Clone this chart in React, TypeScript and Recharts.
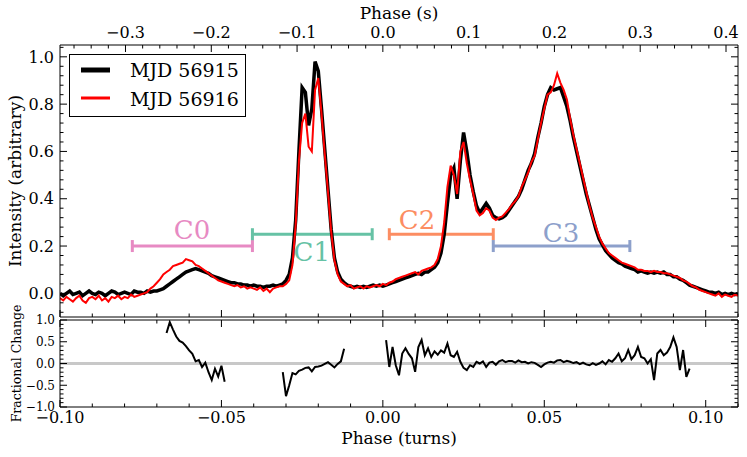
import React from 'react';
import { LineChart, Line, XAxis, YAxis, ReferenceLine, ReferenceDot, Legend } from 'recharts';

const FONT = "'DejaVu Serif', serif";
const PERIOD_S = 3.7635;
const PHASE_START = -0.1;
const PHASE_STEP = 0.001;

// Normalised pulse profile, MJD 56915 (phase -0.100 ... 0.110, step 0.001 turns)
const MJD56915 = [
  0.00, -0.01, 0.00, 0.01, -0.005, 0.00, 0.005, -0.01, 0.00, 0.01,
  0.00, -0.005, 0.005, 0.00, -0.01, 0.00, 0.01, 0.005, -0.005, 0.00,
  0.005, 0.00, -0.005, 0.01, 0.005, 0.005, 0.00, 0.01, 0.005, 0.01,
  0.01, 0.015, 0.02, 0.03, 0.04, 0.05, 0.06, 0.07, 0.08, 0.09,
  0.095, 0.10, 0.105, 0.10, 0.095, 0.09, 0.085, 0.075, 0.07, 0.065,
  0.06, 0.055, 0.05, 0.045, 0.045, 0.04, 0.04, 0.035, 0.035, 0.03,
  0.035, 0.03, 0.03, 0.025, 0.03, 0.03, 0.035, 0.03, 0.035, 0.04,
  0.055, 0.08, 0.15, 0.31, 0.60, 0.87, 0.85, 0.71, 0.78, 0.98,
  0.94, 0.78, 0.61, 0.44, 0.27, 0.15, 0.09, 0.06, 0.045, 0.035,
  0.03, 0.025, 0.03, 0.025, 0.03, 0.025, 0.03, 0.035, 0.03, 0.035,
  0.03, 0.035, 0.04, 0.045, 0.05, 0.055, 0.06, 0.065, 0.07, 0.075,
  0.08, 0.085, 0.08, 0.09, 0.09, 0.10, 0.11, 0.13, 0.17, 0.25,
  0.38, 0.50, 0.53, 0.40, 0.56, 0.68, 0.60, 0.50, 0.43, 0.37,
  0.34, 0.36, 0.38, 0.36, 0.33, 0.32, 0.315, 0.32, 0.33, 0.35,
  0.37, 0.39, 0.41, 0.44, 0.48, 0.52, 0.55, 0.59, 0.66, 0.72,
  0.79, 0.84, 0.87, 0.86, 0.865, 0.87, 0.83, 0.79, 0.73, 0.66,
  0.60, 0.54, 0.48, 0.42, 0.37, 0.32, 0.27, 0.23, 0.205, 0.18,
  0.165, 0.15, 0.14, 0.13, 0.125, 0.115, 0.11, 0.105, 0.10, 0.09,
  0.095, 0.09, 0.085, 0.09, 0.085, 0.09, 0.085, 0.09, 0.08, 0.08,
  0.07, 0.07, 0.06, 0.055, 0.045, 0.035, 0.03, 0.025, 0.02, 0.015,
  0.01, 0.005, 0.005, 0.0, 0.005, -0.005, 0.0, -0.005, 0.0, -0.005, 0.0,
];

// Normalised pulse profile, MJD 56916
const MJD56916 = [
  -0.02, -0.03, -0.015, -0.025, -0.035, -0.02, -0.01, -0.03, -0.04, -0.02,
  -0.015, -0.025, -0.01, -0.03, -0.02, -0.035, -0.015, -0.02, -0.01, -0.025,
  -0.015, -0.02, -0.005, -0.015, -0.01, -0.005, 0.00, 0.005, 0.02, 0.03,
  0.045, 0.06, 0.08, 0.09, 0.10, 0.115, 0.12, 0.125, 0.13, 0.145,
  0.14, 0.135, 0.12, 0.115, 0.105, 0.095, 0.085, 0.075, 0.065, 0.055,
  0.05, 0.045, 0.04, 0.035, 0.03, 0.035, 0.025, 0.03, 0.02, 0.025,
  0.02, 0.015, 0.025, 0.01, 0.02, 0.005, 0.02, 0.025, 0.03, 0.03,
  0.04, 0.055, 0.12, 0.29, 0.56, 0.72, 0.76, 0.62, 0.60, 0.86,
  0.91, 0.76, 0.59, 0.43, 0.26, 0.14, 0.08, 0.05, 0.04, 0.03,
  0.035, 0.02, 0.025, 0.03, 0.02, 0.03, 0.025, 0.03, 0.035, 0.03,
  0.04, 0.035, 0.045, 0.05, 0.06, 0.065, 0.07, 0.075, 0.08, 0.085,
  0.09, 0.08, 0.095, 0.10, 0.105, 0.11, 0.12, 0.145, 0.20, 0.30,
  0.45, 0.54, 0.50, 0.42, 0.60, 0.64, 0.55, 0.48, 0.42, 0.35,
  0.33, 0.34, 0.36, 0.35, 0.32, 0.31, 0.32, 0.325, 0.34, 0.355,
  0.375, 0.39, 0.41, 0.45, 0.48, 0.51, 0.555, 0.58, 0.65, 0.72,
  0.78, 0.84, 0.85, 0.88, 0.93, 0.89, 0.86, 0.82, 0.74, 0.67,
  0.61, 0.55, 0.49, 0.43, 0.37, 0.32, 0.28, 0.24, 0.21, 0.19,
  0.17, 0.16, 0.15, 0.14, 0.13, 0.125, 0.12, 0.115, 0.11, 0.10,
  0.10, 0.095, 0.095, 0.09, 0.095, 0.09, 0.09, 0.085, 0.085, 0.08,
  0.075, 0.07, 0.065, 0.055, 0.05, 0.04, 0.03, 0.025, 0.015, 0.01,
  0.005, 0.0, -0.005, -0.01, 0.0, -0.015, -0.005, -0.01, -0.015, -0.005, -0.01,
];

// Fractional change between the two days (null where not computed)
const FRAC_CHANGE = [
  null, null, null, null, null, null, null, null, null, null,
  null, null, null, null, null, null, null, null, null, null,
  null, null, null, null, null, null, null, null, null, null,
  null, null, null, 0.70, 0.95, 0.78, 0.62, 0.52, 0.48, 0.40,
  0.30, 0.22, 0.05, 0.08, -0.08, 0.02, -0.20, -0.38, -0.12, -0.30,
  -0.05, -0.42, null, null, null, null, null, null, null, null,
  null, null, null, null, null, null, null, null, null, -0.20,
  -0.75, -0.50, -0.22, -0.25, -0.17, -0.14, -0.10, -0.09, -0.18, -0.08,
  -0.07, -0.05, -0.01, 0.03, -0.03, -0.09, -0.01, 0.05, 0.34, null,
  null, null, null, null, null, null, null, null, null, null,
  null, 0.54, -0.08, 0.38, -0.04, -0.27, 0.23, 0.35, 0.22, 0.12,
  -0.19, 0.38, 0.54, 0.19, 0.35, 0.15, 0.28, 0.20, 0.30, 0.25,
  0.46, 0.19, 0.15, 0.27, 0.04, -0.10, -0.15, -0.04, -0.08, 0.04,
  0.0, 0.05, -0.08, 0.02, 0.04, -0.03, 0.05, 0.08, 0.03, 0.06,
  0.06, 0.02, 0.07, 0.03, 0.04, 0.0, 0.03, 0.015, -0.03, -0.08,
  -0.02, 0.02, 0.04, 0.02, 0.07, 0.08, 0.03, 0.06, 0.04, 0.01,
  0.03, -0.015, 0.02, -0.02, -0.04, 0.01, -0.03, 0.0, 0.05, -0.02,
  0.08, 0.04, 0.12, 0.23, 0.05, 0.12, 0.31, 0.10, 0.19, 0.38,
  0.15, 0.12, 0.0, 0.10, -0.38, 0.23, 0.31, 0.19, 0.25, 0.38,
  0.60, 0.38, -0.15, 0.31, -0.31, -0.12, null, null, null, null,
  null, null, null, null, null, null, null, null, null, null, null,
];

const PHASE = MJD56915.map((_, i) => Math.round((PHASE_START + i * PHASE_STEP) * 1000) / 1000);

// Profile components
const COMPONENT_NAMES = ['C0', 'C1', 'C2', 'C3'];
const COMPONENT_START = [-0.0776, -0.0404, 0.002, 0.0342];
const COMPONENT_END = [-0.0404, -0.0033, 0.0342, 0.0765];
const COMPONENT_LEVEL = [0.2, 0.25, 0.25, 0.2];
const COMPONENT_LABEL_PHASE = [-0.0591, -0.022, 0.0106, 0.0552];
const COMPONENT_LABEL_LEVEL = [0.268, 0.175, 0.31, 0.255];
const COMPONENT_COLORS = ['#e78ac3', '#66c2a5', '#fc8d62', '#8da0cb'];

// Tick labels
const TURN_MAJOR = [-0.1, -0.05, 0, 0.05, 0.1];
const SEC_MAJOR = [-0.3, -0.2, -0.1, 0.0, 0.1, 0.2, 0.3, 0.4];
const INT_MAJOR = [0, 0.2, 0.4, 0.6, 0.8, 1.0];
const FRAC_MAJOR = [-1, -0.5, 0, 0.5, 1];

const range = (a: number, b: number, step: number) => {
  const out: number[] = [];
  for (let v = a; v <= b + 1e-9; v += step) out.push(Math.round(v * 1e4) / 1e4);
  return out;
};

const TURN_TICKS = range(-0.1, 0.11, 0.01);
const SEC_TICKS = range(-0.36, 0.4, 0.02).map((s) => s / PERIOD_S);
const SEC_MAJOR_TURNS = SEC_MAJOR.map((s) => s / PERIOD_S);
const INT_TICKS = range(-0.08, 1.04, 0.04);
const FRAC_TICKS = range(-1, 1, 0.1);

const SERIES = [
  { key: 'mjd56915', name: 'MJD 56915', color: '#000000', width: 3.5, legendWidth: 5 },
  { key: 'mjd56916', name: 'MJD 56916', color: '#ff0000', width: 2, legendWidth: 3 },
];

const profileRows = PHASE.map((x, i) => ({ x, mjd56915: MJD56915[i], mjd56916: MJD56916[i] }));
const fracRows = PHASE.map((x, i) => ({ x, frac: FRAC_CHANGE[i] }));
const componentSegments = COMPONENT_NAMES.map((_, i) => [
  { x: COMPONENT_START[i], y: COMPONENT_LEVEL[i] },
  { x: COMPONENT_END[i], y: COMPONENT_LEVEL[i] },
]);

const fmtNum = (d: number) => (v: number) => {
  const r = Math.abs(v) < 1e-9 ? 0 : v;
  return r.toFixed(d).replace('-', '\u2212');
};

type Side = 'top' | 'bottom' | 'left' | 'right';
type LabelOpt = { size: number; fmt: (v: number) => string; gap: number } | null;

function makeTick(side: Side, majors: number[], label: LabelOpt) {
  return (props: any) => {
    const { x, y, payload } = props;
    const v = payload.value;
    const isMajor = majors.some((m) => Math.abs(m - v) < 1e-6);
    const len = isMajor ? 7 : 3.5;
    let l;
    if (side === 'bottom') l = { x1: x, x2: x, y1: y, y2: y - len };
    else if (side === 'top') l = { x1: x, x2: x, y1: y, y2: y + len };
    else if (side === 'left') l = { x1: x, x2: x + len, y1: y, y2: y };
    else l = { x1: x, x2: x - len, y1: y, y2: y };
    let t = null;
    if (label && isMajor) {
      const s = label.fmt(v);
      const common = { fontFamily: FONT, fontSize: label.size, fill: '#000' };
      if (side === 'bottom')
        t = <text {...common} x={x} y={y + label.gap} textAnchor="middle">{s}</text>;
      else if (side === 'top')
        t = <text {...common} x={x} y={y - label.gap} textAnchor="middle">{s}</text>;
      else if (side === 'left')
        t = <text {...common} x={x - label.gap} y={y} dy="0.36em" textAnchor="end">{s}</text>;
    }
    return (
      <g>
        <line {...l} stroke="#000" strokeWidth={1} />
        {t}
      </g>
    );
  };
}

const capDot = (color: string) => (p: any) => (
  <line
    key={`cap-${color}-${p.index}`}
    x1={p.cx}
    x2={p.cx}
    y1={p.cy - 6}
    y2={p.cy + 6}
    stroke={color}
    strokeWidth={3}
  />
);

const LegendBox = (props: any) => {
  const payload = (props.payload || []).filter((p: any) => SERIES.some((s) => s.name === p.value));
  return (
    <svg width={177} height={63} style={{ display: 'block' }}>
      <rect x={0.5} y={0.5} width={176} height={62} fill="#fff" stroke="#000" strokeWidth={1} />
      {payload.map((p: any, i: number) => {
        const s = SERIES.find((q) => q.name === p.value)!;
        return (
          <g key={s.key}>
            <line x1={12} x2={41} y1={16 + 28 * i} y2={16 + 28 * i} stroke={s.color} strokeWidth={s.legendWidth} />
            <text x={61} y={23 + 29 * i} fontFamily={FONT} fontSize={19} fill="#000">
              {s.name}
            </text>
          </g>
        );
      })}
    </svg>
  );
};

const axisLine = { stroke: '#000', strokeWidth: 1 };

export default function App() {
  return (
    <div style={{ position: 'absolute', left: 0, top: 0, width: 747, height: 457, background: '#fff', fontFamily: FONT }}>
      <div style={{ position: 'absolute', left: 0, top: 0 }}>
        <LineChart width={747} height={320} data={profileRows} margin={{ top: 20, right: 8, bottom: 2, left: 10 }}>
          <XAxis
            xAxisId="b"
            dataKey="x"
            type="number"
            orientation="bottom"
            domain={[-0.1, 0.11]}
            allowDataOverflow
            ticks={TURN_TICKS}
            interval={0}
            height={1}
            tickSize={0}
            tickMargin={0}
            tickLine={false}
            axisLine={axisLine}
            tick={makeTick('bottom', TURN_MAJOR, null)}
          />
          <XAxis
            xAxisId="t"
            dataKey="x"
            type="number"
            orientation="top"
            domain={[-0.1, 0.11]}
            allowDataOverflow
            ticks={SEC_TICKS}
            interval={0}
            height={25}
            tickSize={0}
            tickMargin={0}
            tickLine={false}
            axisLine={axisLine}
            tick={makeTick('top', SEC_MAJOR_TURNS, { size: 16, gap: 7, fmt: (v) => fmtNum(1)(v * PERIOD_S) })}
            label={{ value: 'Phase (s)', position: 'top', offset: 1, fontSize: 17, fontFamily: FONT, fill: '#000' }}
          />
          <YAxis
            yAxisId="l"
            type="number"
            orientation="left"
            domain={[-0.1, 1.05]}
            allowDataOverflow
            ticks={INT_TICKS}
            interval={0}
            width={50}
            tickSize={0}
            tickMargin={0}
            tickLine={false}
            axisLine={axisLine}
            tick={makeTick('left', INT_MAJOR, { size: 16, gap: 6, fmt: fmtNum(1) })}
            label={{
              value: 'Intensity (arbitrary)',
              angle: -90,
              position: 'insideLeft',
              offset: 5,
              fontSize: 17,
              fontFamily: FONT,
              fill: '#000',
              style: { textAnchor: 'middle' },
            }}
          />
          <YAxis
            yAxisId="r"
            type="number"
            orientation="right"
            domain={[-0.1, 1.05]}
            allowDataOverflow
            ticks={INT_TICKS}
            interval={0}
            width={1}
            tickSize={0}
            tickMargin={0}
            tickLine={false}
            axisLine={axisLine}
            tick={makeTick('right', INT_MAJOR, null)}
          />
          {componentSegments.map((seg, i) => (
            <Line
              key={COMPONENT_NAMES[i]}
              data={seg}
              dataKey="y"
              xAxisId="b"
              yAxisId="l"
              stroke={COMPONENT_COLORS[i]}
              strokeWidth={3}
              dot={capDot(COMPONENT_COLORS[i])}
              activeDot={false}
              legendType="none"
              isAnimationActive={false}
            />
          ))}
          {COMPONENT_NAMES.map((name, i) => (
            <ReferenceDot
              key={`lbl-${name}`}
              xAxisId="b"
              yAxisId="l"
              x={COMPONENT_LABEL_PHASE[i]}
              y={COMPONENT_LABEL_LEVEL[i]}
              r={0}
              stroke="none"
              fill="none"
              label={{ value: name, position: 'center', fontSize: 26, fontFamily: FONT, fill: COMPONENT_COLORS[i] }}
            />
          ))}
          <Line
            name={SERIES[0].name}
            dataKey={SERIES[0].key}
            xAxisId="b"
            yAxisId="l"
            stroke={SERIES[0].color}
            strokeWidth={SERIES[0].width}
            dot={false}
            activeDot={false}
            isAnimationActive={false}
          />
          <Line
            name={SERIES[1].name}
            dataKey={SERIES[1].key}
            xAxisId="t"
            yAxisId="r"
            stroke={SERIES[1].color}
            strokeWidth={SERIES[1].width}
            dot={false}
            activeDot={false}
            isAnimationActive={false}
          />
          <Legend
            layout="horizontal"
            verticalAlign="middle"
            align="center"
            wrapperStyle={{ left: 69, top: 54, width: 177, height: 63 }}
            content={<LegendBox />}
          />
        </LineChart>
      </div>
      <div style={{ position: 'absolute', left: 0, top: 300 }}>
        <LineChart width={747} height={157} data={fracRows} margin={{ top: 19, right: 8, bottom: 10, left: 10 }}>
          <XAxis
            xAxisId="b"
            dataKey="x"
            type="number"
            orientation="bottom"
            domain={[-0.1, 0.11]}
            allowDataOverflow
            ticks={TURN_TICKS}
            interval={0}
            height={40}
            tickSize={0}
            tickMargin={0}
            tickLine={false}
            axisLine={axisLine}
            tick={makeTick('bottom', TURN_MAJOR, { size: 16, gap: 16, fmt: fmtNum(2) })}
            label={{ value: 'Phase (turns)', position: 'insideBottom', offset: 3, fontSize: 17, fontFamily: FONT, fill: '#000' }}
          />
          <XAxis
            xAxisId="t"
            dataKey="x"
            type="number"
            orientation="top"
            domain={[-0.1, 0.11]}
            allowDataOverflow
            ticks={TURN_TICKS}
            interval={0}
            height={1}
            tickSize={0}
            tickMargin={0}
            tickLine={false}
            axisLine={axisLine}
            tick={makeTick('top', TURN_MAJOR, null)}
          />
          <YAxis
            yAxisId="l"
            type="number"
            orientation="left"
            domain={[-1, 1]}
            allowDataOverflow
            ticks={FRAC_TICKS}
            interval={0}
            width={50}
            tickSize={0}
            tickMargin={0}
            tickLine={false}
            axisLine={axisLine}
            tick={makeTick('left', FRAC_MAJOR, { size: 12, gap: 5, fmt: fmtNum(1) })}
            label={{
              value: 'Fractional Change',
              angle: -90,
              position: 'insideLeft',
              offset: 7,
              fontSize: 12.5,
              fontFamily: FONT,
              fill: '#000',
              style: { textAnchor: 'middle' },
            }}
          />
          <YAxis
            yAxisId="r"
            type="number"
            orientation="right"
            domain={[-1, 1]}
            allowDataOverflow
            ticks={FRAC_TICKS}
            interval={0}
            width={1}
            tickSize={0}
            tickMargin={0}
            tickLine={false}
            axisLine={axisLine}
            tick={makeTick('right', FRAC_MAJOR, null)}
          />
          <ReferenceLine xAxisId="b" yAxisId="l" y={0} stroke="#c8c8c8" strokeWidth={3} />
          <Line
            dataKey="frac"
            xAxisId="b"
            yAxisId="l"
            stroke="#000"
            strokeWidth={2}
            dot={false}
            activeDot={false}
            connectNulls={false}
            isAnimationActive={false}
          />
        </LineChart>
      </div>
    </div>
  );
}
